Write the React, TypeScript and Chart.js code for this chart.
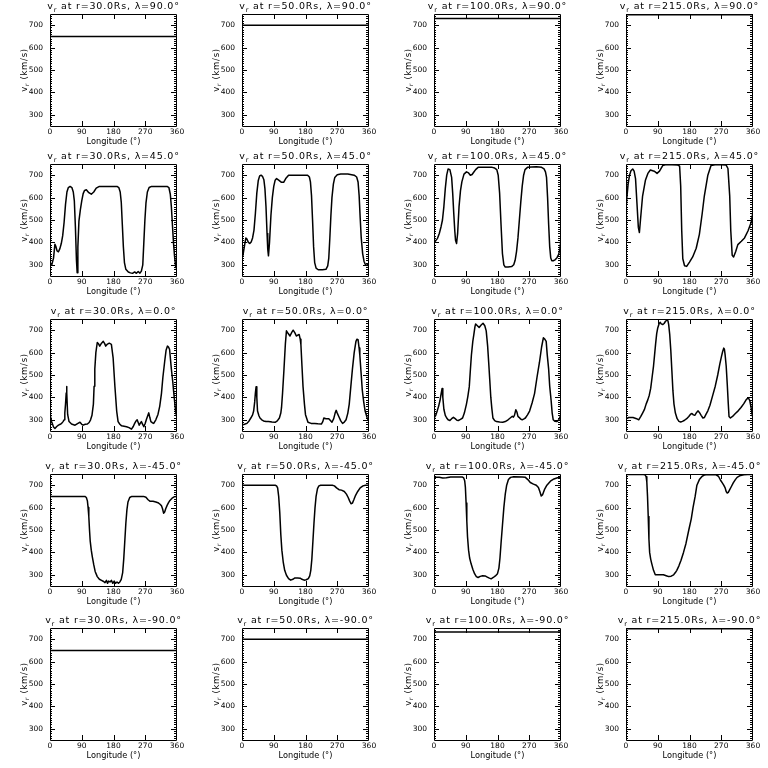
import React, { useEffect, useRef } from "react";
import { Chart, registerables } from "chart.js";

Chart.register(...registerables);

// ---------- data ----------
const RADII = ["30.0", "50.0", "100.0", "215.0"];
const LATITUDES = ["90.0", "45.0", "0.0", "-45.0", "-90.0"];
const X_TICKS = [0, 90, 180, 270, 360];
const Y_TICKS = [300, 400, 500, 600, 700];
const X_MIN = 0, X_MAX = 360, Y_MIN = 250, Y_MAX = 750;

type Pt = [number, number];

const R30_L90: Pt[] = [[0, 650], [360, 650]];
const R50_L90: Pt[] = [[0, 700], [360, 700]];
const R100_L90: Pt[] = [[0, 730], [360, 730]];
const R215_L90: Pt[] = [[0, 747], [360, 747]];

const R30_L45: Pt[] = [[0,295],[5,300],[10,330],[14,392],[17,380],[20,362],[24,358],[28,372],[32,395],[36,430],[40,490],[44,570],[48,625],[52,645],[57,650],[62,645],[66,625],[69,585],[72,470],[75,320],[77,265],[79,380],[82,495],[86,545],[90,585],[94,618],[98,632],[103,635],[110,622],[117,615],[124,625],[131,642],[140,650],[190,650],[195,645],[199,625],[202,580],[205,480],[208,380],[211,310],[215,280],[222,268],[228,264],[234,262],[240,268],[245,262],[250,270],[255,263],[259,272],[263,300],[266,400],[269,500],[272,575],[276,625],[281,645],[288,650],[332,650],[337,645],[341,615],[344,560],[347,480],[350,400],[353,340],[356,295],[360,278]];
const R50_L45: Pt[] = [[0,330],[3,345],[7,385],[11,420],[14,415],[18,400],[22,395],[26,402],[30,420],[34,455],[38,530],[42,620],[46,675],[50,697],[54,700],[58,695],[62,680],[65,640],[68,560],[71,440],[73,370],[75,340],[78,400],[82,520],[86,600],[90,650],[94,678],[98,685],[104,678],[112,668],[118,668],[124,685],[132,700],[186,700],[191,692],[194,670],[197,610],[200,500],[203,380],[206,310],[210,285],[216,278],[228,278],[238,280],[243,295],[246,330],[249,420],[252,520],[255,600],[259,660],[263,690],[270,702],[280,705],[300,705],[318,700],[325,692],[329,670],[332,610],[335,510],[338,420],[342,350],[346,315],[350,300],[355,297],[360,310]];
const R100_L45: Pt[] = [[0,400],[5,408],[10,418],[15,440],[20,470],[24,500],[28,560],[32,640],[36,700],[40,728],[45,725],[50,690],[53,620],[56,530],[59,450],[61,410],[64,395],[67,440],[71,560],[75,630],[79,670],[85,705],[92,715],[98,710],[103,700],[108,703],[112,712],[118,725],[125,735],[165,735],[172,732],[178,725],[182,700],[186,620],[190,480],[194,350],[198,300],[202,290],[210,290],[220,292],[226,300],[230,320],[234,360],[238,420],[242,500],[246,580],[250,650],[254,700],[258,725],[265,735],[290,738],[305,735],[312,728],[316,715],[319,690],[322,600],[325,480],[328,380],[331,330],[334,318],[338,318],[343,322],[348,330],[353,345],[357,370],[360,420]];
const R215_L45: Pt[] = [[0,553],[3,610],[6,660],[10,700],[14,720],[19,728],[23,718],[27,685],[31,576],[35,467],[38,444],[41,500],[47,607],[55,677],[62,708],[69,723],[80,718],[88,708],[95,718],[104,743],[114,748],[147,745],[152,740],[155,653],[158,451],[161,327],[166,296],[172,293],[180,312],[189,335],[199,374],[208,436],[216,529],[222,607],[232,700],[241,743],[256,748],[284,745],[289,730],[294,607],[297,452],[301,343],[305,335],[311,359],[317,390],[327,405],[336,420],[346,452],[355,490],[360,537]];

const R30_L0: Pt[] = [[0,324],[5,290],[10,268],[14,261],[19,270],[24,276],[29,280],[33,284],[37,292],[40,300],[42,330],[44,370],[46,420],[47,449],[48,420],[50,324],[54,292],[61,281],[71,276],[78,283],[85,289],[90,280],[94,276],[100,280],[106,281],[111,288],[115,300],[119,320],[123,370],[125,450],[127,527],[130,600],[134,645],[138,638],[141,629],[146,642],[151,650],[155,640],[158,629],[163,638],[168,642],[174,637],[179,575],[184,449],[189,339],[193,292],[198,280],[203,273],[210,271],[217,269],[224,265],[231,258],[236,270],[240,284],[244,295],[247,300],[250,288],[253,276],[256,285],[259,292],[262,282],[266,269],[270,285],[273,300],[277,318],[280,331],[283,310],[286,292],[290,287],[294,284],[300,300],[306,324],[311,360],[316,418],[320,490],[325,559],[329,610],[333,629],[336,625],[339,614],[344,527],[348,470],[351,418],[356,339],[360,308]];
const R50_L0: Pt[] = [[0,277],[7,280],[14,284],[20,295],[25,308],[30,322],[33,339],[36,380],[38,420],[40,448],[42,400],[44,339],[48,318],[51,308],[56,300],[61,295],[68,292],[75,292],[85,290],[94,289],[100,295],[106,308],[110,330],[112,354],[115,420],[119,526],[123,640],[126,697],[131,685],[136,674],[141,690],[145,700],[150,688],[154,674],[158,678],[162,681],[165,660],[167,635],[170,540],[173,448],[177,370],[180,323],[187,289],[196,284],[206,284],[215,282],[225,281],[229,292],[232,308],[238,305],[246,305],[250,298],[255,289],[260,305],[264,330],[267,342],[270,330],[274,316],[280,295],[285,284],[290,290],[295,300],[300,330],[304,370],[308,440],[313,526],[318,600],[323,650],[326,660],[329,658],[332,620],[334,588],[338,500],[341,432],[345,380],[349,339],[355,308],[360,292]];
const R100_L0: Pt[] = [[0,308],[5,320],[9,339],[13,360],[17,386],[20,415],[23,440],[25,400],[28,347],[32,320],[36,308],[40,300],[45,297],[50,305],[55,311],[60,305],[65,298],[69,297],[75,302],[81,308],[86,330],[92,370],[96,405],[100,448],[103,520],[106,588],[110,650],[113,681],[116,715],[118,728],[123,720],[128,712],[133,722],[139,731],[144,720],[148,697],[152,630],[155,557],[158,480],[161,401],[164,350],[167,308],[172,296],[177,292],[186,290],[195,289],[202,292],[210,300],[216,308],[222,316],[225,312],[228,320],[232,345],[235,335],[238,315],[241,311],[246,303],[250,300],[255,304],[259,308],[265,322],[271,339],[278,375],[285,417],[292,490],[299,557],[305,625],[310,666],[314,660],[318,650],[321,590],[325,526],[328,450],[332,386],[335,330],[338,300],[343,293],[348,292],[354,300],[360,323]];
const R215_L0: Pt[] = [[0,305],[8,310],[20,310],[30,305],[36,300],[42,315],[47,330],[52,345],[57,370],[62,390],[66,410],[70,440],[74,490],[78,540],[81,590],[84,640],[87,685],[90,710],[94,730],[97,735],[100,728],[104,725],[108,730],[112,740],[116,745],[119,742],[121,725],[124,680],[127,610],[130,520],[133,430],[136,370],[140,330],[145,305],[150,293],[155,290],[160,293],[166,298],[172,305],[178,315],[183,325],[187,328],[191,322],[195,320],[199,330],[204,340],[208,333],[213,320],[218,308],[222,310],[227,325],[232,340],[238,365],[246,410],[253,450],[260,500],[266,550],[271,585],[274,605],[277,620],[279,615],[281,590],[284,540],[287,460],[290,370],[292,315],[296,308],[302,315],[310,328],[318,340],[326,355],[334,372],[340,388],[344,395],[348,395],[351,385],[354,360],[357,330],[360,305]];

const R30_LM45: Pt[] = [[0,650],[60,650],[99,650],[103,645],[106,630],[108,600],[110,560],[112,500],[114,450],[117,410],[120,380],[124,345],[128,315],[134,292],[140,280],[146,275],[152,270],[156,265],[160,275],[163,262],[166,272],[170,268],[174,275],[178,262],[182,272],[186,262],[190,268],[194,262],[198,268],[202,280],[206,310],[209,370],[212,450],[215,530],[218,590],[221,625],[226,645],[232,650],[265,650],[272,646],[278,635],[284,628],[292,628],[300,625],[306,622],[312,615],[316,608],[319,595],[322,575],[325,580],[328,595],[332,610],[336,622],[340,632],[346,642],[352,648],[360,650]];
const R50_LM45: Pt[] = [[0,700],[60,700],[94,700],[98,697],[101,688],[104,650],[107,580],[110,480],[113,410],[117,355],[121,320],[126,298],[132,283],[138,276],[144,280],[150,286],[158,286],[165,285],[170,280],[176,276],[182,278],[188,283],[192,295],[195,320],[198,370],[201,450],[204,530],[207,600],[210,650],[214,685],[218,697],[223,700],[256,700],[262,697],[268,688],[275,680],[282,678],[290,672],[296,660],[301,645],[305,630],[309,617],[313,620],[317,635],[322,655],[328,672],[335,688],[343,697],[350,700],[360,700]];
const R100_LM45: Pt[] = [[0,735],[15,735],[25,732],[35,733],[47,737],[80,737],[84,733],[87,720],[89,690],[91,620],[93,540],[95,470],[98,410],[101,375],[105,350],[110,325],[115,305],[120,292],[125,288],[131,293],[138,296],[145,295],[151,290],[157,285],[162,282],[168,288],[174,295],[180,305],[184,330],[187,375],[190,440],[194,520],[198,600],[202,660],[206,700],[211,725],[217,735],[226,738],[250,737],[259,735],[266,725],[273,712],[282,705],[290,700],[296,690],[300,672],[304,652],[308,658],[313,680],[320,700],[330,718],[340,728],[350,733],[360,735]];
const R215_LM45: Pt[] = [[0,748],[49,748],[54,746],[57,738],[59,715],[61,650],[63,560],[65,460],[67,400],[70,370],[73,350],[78,320],[83,300],[95,300],[106,300],[114,296],[121,292],[128,294],[135,300],[140,310],[144,320],[150,340],[156,365],[163,400],[170,440],[178,500],[185,550],[190,600],[196,650],[201,700],[208,725],[216,740],[223,746],[230,748],[254,747],[262,740],[268,722],[273,710],[277,700],[281,688],[284,672],[287,665],[290,668],[294,680],[298,692],[304,710],[310,725],[315,735],[322,742],[334,747],[345,748],[360,748]];

const R30_LM90: Pt[] = [[0, 650], [360, 650]];
const R50_LM90: Pt[] = [[0, 700], [360, 700]];
const R100_LM90: Pt[] = [[0, 732], [360, 732]];
const R215_LM90: Pt[] = [[0, 747], [360, 747]];

const SERIES: Pt[][][] = [
  [R30_L90, R50_L90, R100_L90, R215_L90],
  [R30_L45, R50_L45, R100_L45, R215_L45],
  [R30_L0, R50_L0, R100_L0, R215_L0],
  [R30_LM45, R50_LM45, R100_LM45, R215_LM45],
  [R30_LM90, R50_LM90, R100_LM90, R215_LM90],
];

// ---------- layout ----------
const CW = 192;
const CH = 154;
const ROW_TOPS = [0, 150, 305, 460, 614];
const FONT = "'DejaVu Sans', 'Liberation Sans', sans-serif";

function drawSubText(
  ctx: CanvasRenderingContext2D,
  pre: string,
  sub: string,
  post: string,
  cx: number,
  y: number,
  size: number,
  spacing: number
) {
  const main = `${size}px ${FONT}`;
  const small = `${(size * 0.7).toFixed(2)}px ${FONT}`;
  (ctx as any).letterSpacing = `${spacing}px`;
  ctx.font = main;
  const w1 = ctx.measureText(pre).width;
  const w3 = ctx.measureText(post).width;
  ctx.font = small;
  const w2 = ctx.measureText(sub).width;
  const total = w1 + w2 + w3;
  let x = cx - total / 2;
  ctx.textAlign = "left";
  ctx.textBaseline = "alphabetic";
  ctx.font = main;
  ctx.fillText(pre, x, y);
  x += w1;
  ctx.font = small;
  ctx.fillText(sub, x, y + size * 0.28);
  x += w2;
  ctx.font = main;
  ctx.fillText(post, x, y);
  (ctx as any).letterSpacing = "0px";
}

function makeFramePlugin(title: string) {
  return {
    id: "idlFrame",
    afterDraw(chart: any) {
      const { ctx, chartArea } = chart;
      const { left, right, top, bottom } = chartArea;
      const xs = chart.scales.x;
      const ys = chart.scales.y;
      ctx.save();
      ctx.strokeStyle = "#000";
      ctx.lineWidth = 1;
      ctx.beginPath();
      ctx.rect(Math.round(left) + 0.5, Math.round(top) + 0.5, Math.round(right - left) - 1, Math.round(bottom - top));
      ctx.stroke();
      ctx.beginPath();
      for (let v = Y_MIN + 10; v < Y_MAX; v += 10) {
        const py = Math.round(ys.getPixelForValue(v)) + 0.5;
        const len = v % 100 === 0 ? 5 : 2;
        ctx.moveTo(left, py);
        ctx.lineTo(left + len, py);
        ctx.moveTo(right - 1, py);
        ctx.lineTo(right - 1 - len, py);
      }
      for (const t of X_TICKS) {
        if (t === X_MIN || t === X_MAX) continue;
        const px = Math.round(xs.getPixelForValue(t)) + 0.5;
        ctx.moveTo(px, bottom);
        ctx.lineTo(px, bottom - 5);
        ctx.moveTo(px, top);
        ctx.lineTo(px, top + 5);
      }
      ctx.stroke();

      ctx.fillStyle = "#000";
      const cx = (left + right) / 2;
      // title
      drawSubText(ctx, "v", "r", title, cx, 9, 9.5, 0.8);
      // x title
      (ctx as any).letterSpacing = "0px";
      ctx.font = `8.2px ${FONT}`;
      ctx.textAlign = "center";
      ctx.textBaseline = "alphabetic";
      ctx.fillText("Longitude (°)", cx, 144);
      // y title
      ctx.save();
      ctx.translate(24, (top + bottom) / 2);
      ctx.rotate(-Math.PI / 2);
      drawSubText(ctx, "v", "r", " (km/s)", 0, 3, 8.5, 0.7);
      ctx.restore();
      ctx.restore();
    },
  };
}

function Panel({ row, col }: { row: number; col: number }) {
  const ref = useRef<HTMLCanvasElement | null>(null);
  useEffect(() => {
    const canvas = ref.current;
    if (!canvas) return;
    const pts = SERIES[row][col];
    const title = ` at r=${RADII[col]}Rs, \u03bb=${LATITUDES[row]}\u00b0`;
    const chart = new Chart(canvas, {
      type: "line",
      data: {
        datasets: [
          {
            data: pts.map(([x, y]) => ({ x, y })),
            borderColor: "#000",
            borderWidth: 1.5,
            borderJoinStyle: "round",
            borderCapStyle: "round",
            pointRadius: 0,
            tension: 0,
            fill: false,
          },
        ],
      },
      options: {
        responsive: false,
        animation: false,
        devicePixelRatio: 1,
        layout: { padding: { top: 14, right: 15, left: 0, bottom: 0 } },
        plugins: {
          legend: { display: false },
          tooltip: { enabled: false },
          title: { display: false },
        },
        scales: {
          x: {
            type: "linear",
            min: X_MIN,
            max: X_MAX,
            grid: { display: false, drawTicks: false },
            border: { display: false },
            afterBuildTicks: (s: any) => {
              s.ticks = X_TICKS.map((value) => ({ value }));
            },
            afterFit: (s: any) => {
              s.height = 28;
              s.paddingLeft = 0;
              s.paddingRight = 0;
            },
            ticks: {
              color: "#000",
              padding: 2,
              maxRotation: 0,
              autoSkip: false,
              font: { family: FONT, size: 7.5 },
            },
          },
          y: {
            type: "linear",
            min: Y_MIN,
            max: Y_MAX,
            grid: { display: false, drawTicks: false },
            border: { display: false },
            afterBuildTicks: (s: any) => {
              s.ticks = Y_TICKS.map((value) => ({ value }));
            },
            afterFit: (s: any) => {
              s.width = 50;
              s.paddingTop = 0;
              s.paddingBottom = 0;
            },
            ticks: {
              color: "#000",
              padding: 7,
              autoSkip: false,
              font: { family: FONT, size: 7.5 },
            },
          },
        },
      },
      plugins: [makeFramePlugin(title)],
    } as any);
    return () => chart.destroy();
  }, [row, col]);
  return (
    <canvas
      ref={ref}
      width={CW}
      height={CH}
      style={{ position: "absolute", left: col * CW, top: ROW_TOPS[row], width: CW, height: CH }}
    />
  );
}

export default function App() {
  const cells: React.ReactNode[] = [];
  for (let r = 0; r < LATITUDES.length; r++) {
    for (let c = 0; c < RADII.length; c++) {
      cells.push(<Panel key={`${r}-${c}`} row={r} col={c} />);
    }
  }
  return (
    <div
      style={{
        position: "absolute",
        left: 0,
        top: 0,
        width: 768,
        height: 768,
        background: "#fff",
        overflow: "hidden",
      }}
    >
      {cells}
    </div>
  );
}
